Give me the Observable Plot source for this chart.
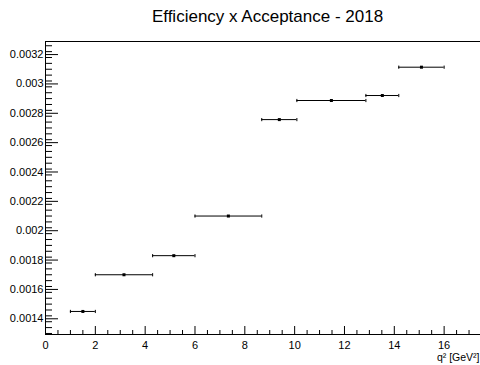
<!DOCTYPE html>
<html>
<head>
<meta charset="utf-8">
<script src="https://cdn.jsdelivr.net/npm/d3@7"></script>
<script src="https://cdn.jsdelivr.net/npm/@observablehq/plot@0.6"></script>
<style>
  html, body { margin: 0; padding: 0; background: #fff; }
  #chart { width: 480px; height: 365px; overflow: hidden; }
</style>
</head>
<body>
<div id="chart"></div>
<script>
// q² bins (GeV²) and efficiency x acceptance values
const binLow  = [1, 2, 4.3, 6, 8.68, 10.09, 12.86, 14.18];
const binHigh = [2, 4.3, 6, 8.68, 10.09, 12.86, 14.18, 16];
const effAcc  = [0.00145, 0.00170, 0.00183, 0.00210, 0.002757, 0.002887, 0.002921, 0.003114];

const xTicks = [0, 2, 4, 6, 8, 10, 12, 14, 16];
const xTickLabels = ["0", "2", "4", "6", "8", "10", "12", "14", "16"];
const yTicks = [0.0014, 0.0016, 0.0018, 0.002, 0.0022, 0.0024, 0.0026, 0.0028, 0.003, 0.0032];
const yTickLabels = ["0.0014", "0.0016", "0.0018", "0.002", "0.0022", "0.0024", "0.0026", "0.0028", "0.003", "0.0032"];

const titleText = "Efficiency x Acceptance - 2018";
const xLabelText = "q\u00B2 [GeV\u00B2]";

const data = binLow.map((lo, i) => ({
  lo, hi: binHigh[i], x: (lo + binHigh[i]) / 2, y: effAcc[i]
}));

const xMinor = d3.range(0, 17.51, 0.5).map(v => +v.toFixed(2)).filter(v => !xTicks.includes(v));
const yMinor = d3.range(13, 33, 0.4).map(v => +(v / 10000).toFixed(5)).filter(v => !yTicks.some(t => Math.abs(t - v) < 1e-9));

const xFmt = new Map(xTicks.map((t, i) => [t, xTickLabels[i]]));
const yFmt = new Map(yTicks.map((t, i) => [t, yTickLabels[i]]));

const capSymbol = {
  draw(ctx, size) {
    const h = Math.sqrt(size / Math.PI);
    ctx.moveTo(0, -h);
    ctx.lineTo(0, h);
  }
};

const chart = Plot.plot({
  width: 480,
  height: 365,
  marginLeft: 45,
  marginRight: -1,
  marginTop: 41,
  marginBottom: 31,
  style: { fontFamily: "'Liberation Sans', Arial, sans-serif", fontSize: "11px", background: "#fff", color: "#000" },
  x: { domain: [0, 17.5], label: null },
  y: { domain: [0.001293, 0.003289], label: null },
  marks: [
    Plot.frame({ stroke: "#000" }),
    // y axis major + minor (inward ticks)
    Plot.axisY({ ticks: yTicks, tickSize: -13, tickPadding: 15, tickFormat: d => yFmt.get(d), label: null, fontSize: 11 }),
    Plot.axisY({ ticks: yMinor, tickSize: -7, tickFormat: () => "", label: null }),
    // x axis major + minor (inward ticks)
    Plot.axisX({ ticks: xTicks, tickSize: -8, tickPadding: 14.6, tickFormat: d => xFmt.get(d), label: null, fontSize: 11 }),
    Plot.axisX({ ticks: xMinor, tickSize: -4, tickFormat: () => "", label: null }),
    // horizontal error bars (bin widths)
    Plot.ruleY(data, { y: "y", x1: "lo", x2: "hi", stroke: "#000", strokeWidth: 1 }),
    Plot.dot(data, { x: "lo", y: "y", symbol: capSymbol, r: 1.6, stroke: "#000", fill: "none", strokeWidth: 1 }),
    Plot.dot(data, { x: "hi", y: "y", symbol: capSymbol, r: 1.6, stroke: "#000", fill: "none", strokeWidth: 1 }),
    // markers
    Plot.dot(data, { x: "x", y: "y", symbol: "square", r: 1.7, fill: "#000", stroke: "none" }),
    // title
    Plot.text([titleText], { frameAnchor: "top", dx: 4, dy: -25.4, lineAnchor: "middle", fontSize: 17, fill: "#000" }),
    // x axis label
    Plot.text([xLabelText], { frameAnchor: "bottom-right", dx: -2, dy: 23.5, lineAnchor: "middle", textAnchor: "end", fontSize: 10.5, fill: "#000" })
  ]
});

document.getElementById("chart").appendChild(chart);
</script>
</body>
</html>
